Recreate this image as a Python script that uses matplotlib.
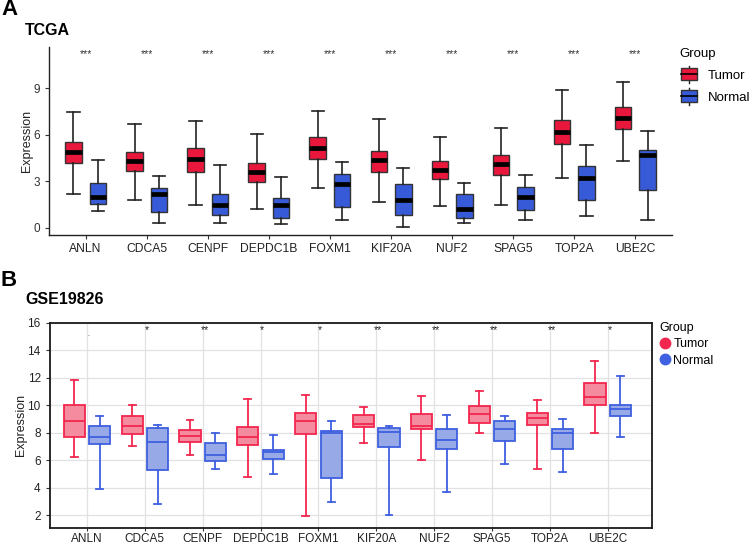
import matplotlib
matplotlib.use('Agg')
import matplotlib.pyplot as plt
import numpy as np
from matplotlib.legend_handler import HandlerBase
from matplotlib.patches import Rectangle, Patch
from matplotlib.lines import Line2D

genes = ['ANLN', 'CDCA5', 'CENPF', 'DEPDC1B', 'FOXM1',
         'KIF20A', 'NUF2', 'SPAG5', 'TOP2A', 'UBE2C']

# five-number summaries: [lower whisker, Q1, median, Q3, upper whisker]
tcga_tumor = [[2.17, 4.15, 4.90, 5.55, 7.48],
              [1.78, 3.63, 4.32, 4.90, 6.71],
              [1.48, 3.59, 4.43, 5.12, 6.90],
              [1.23, 2.92, 3.59, 4.17, 6.04],
              [2.54, 4.43, 5.16, 5.85, 7.53],
              [1.63, 3.59, 4.39, 4.97, 6.99],
              [1.40, 3.12, 3.74, 4.28, 5.85],
              [1.48, 3.38, 4.13, 4.67, 6.43],
              [3.20, 5.38, 6.17, 6.92, 8.90],
              [4.28, 6.34, 7.10, 7.81, 9.40]]
tcga_normal = [[1.10, 1.55, 1.98, 2.88, 4.39],
               [0.32, 1.01, 2.15, 2.56, 3.35],
               [0.30, 0.80, 1.48, 2.15, 4.06],
               [0.24, 0.62, 1.48, 1.94, 3.29],
               [0.52, 1.31, 2.84, 3.48, 4.22],
               [0.06, 0.80, 1.78, 2.80, 3.85],
               [0.28, 0.65, 1.20, 2.15, 2.90],
               [0.47, 1.14, 2.00, 2.60, 3.40],
               [0.73, 1.76, 3.20, 3.96, 5.35],
               [0.52, 2.41, 4.69, 5.01, 6.22]]
tcga_sig = ['***'] * 10

geo_tumor = [[6.27, 7.69, 8.82, 10.00, 11.81],
             [7.06, 7.90, 8.46, 9.20, 10.00],
             [6.36, 7.35, 7.76, 8.22, 8.94],
             [4.82, 7.08, 7.69, 8.39, 10.43],
             [1.93, 7.93, 8.82, 9.42, 10.72],
             [7.25, 8.39, 8.65, 9.30, 9.86],
             [6.00, 8.31, 8.51, 9.37, 10.70],
             [7.98, 8.70, 9.35, 9.95, 11.06],
             [5.37, 8.55, 9.11, 9.47, 10.41],
             [8.00, 10.00, 10.63, 11.61, 13.23]]
geo_normal = [[3.95, 7.18, 7.69, 8.46, 9.20],
              [2.82, 5.28, 7.30, 8.34, 8.60],
              [5.37, 5.98, 6.39, 7.25, 7.95],
              [4.99, 6.12, 6.63, 6.77, 7.81],
              [2.94, 4.72, 7.95, 8.14, 8.84],
              [2.05, 6.99, 8.05, 8.34, 8.51],
              [3.73, 6.82, 7.47, 8.31, 9.28],
              [5.73, 7.40, 8.27, 8.82, 9.23],
              [5.13, 6.80, 7.95, 8.27, 9.01],
              [7.69, 9.20, 9.71, 10.00, 12.10]]
geo_sig = ['.', '*', '**', '*', '*', '**', '**', '**', '**', '*']

groups = ['Tumor', 'Normal']

plt.rcParams['font.family'] = ['Liberation Sans', 'DejaVu Sans']

W, H = 753, 546


def stats(rows):
    return [dict(whislo=r[0], q1=r[1], med=r[2], q3=r[3], whishi=r[4], fliers=[])
            for r in rows]


class BoxKey(HandlerBase):
    # legend key like ggplot's boxplot glyph
    def create_artists(self, legend, orig, xd, yd, width, height, fontsize, trans):
        x0, y0 = -xd, -yd
        cx, cy = x0 + width / 2, y0 + height / 2
        line = Line2D([cx, cx], [y0 - 0.2 * height, y0 + 1.2 * height],
                      color='#222222', lw=1.0, transform=trans)
        box = Rectangle((x0 + 0.05 * width, y0), 0.9 * width, height,
                        facecolor=orig.get_facecolor(), edgecolor='#333333', lw=1.0,
                        transform=trans)
        med = Line2D([x0 + 0.05 * width, x0 + 0.95 * width], [cy, cy],
                     color='black', lw=1.2, transform=trans)
        return [line, box, med]


fig = plt.figure(figsize=(W / 100, H / 100), dpi=100)
x = np.arange(1, len(genes) + 1)

# ---------------- panel A
red_a, blue_a = '#EA173D', '#375AD8'
ax1 = fig.add_axes([49 / W, 1 - 235 / H, 623 / W, 188.3 / H])
for data, off, col in [(tcga_tumor, -0.2, red_a), (tcga_normal, 0.2, blue_a)]:
    ax1.bxp(stats(data), positions=x + off, widths=0.27, capwidths=0.2,
            patch_artist=True, showfliers=False,
            boxprops=dict(facecolor=col, edgecolor='#333333', linewidth=1.0),
            medianprops=dict(color='black', linewidth=3.4, solid_capstyle='butt'),
            whiskerprops=dict(color='#222222', linewidth=1.2),
            capprops=dict(color='#222222', linewidth=1.2))
for xi, s in zip(x, tcga_sig):
    ax1.text(xi, 11.2, s, ha='center', va='center', fontsize=7.5, color='#333333')
ax1.set_xlim(0.4, 10.6)
ax1.set_ylim(-0.47, 11.68)
ax1.set_yticks([0, 3, 6, 9])
ax1.set_xticks(x, genes)
ax1.spines[['top', 'right']].set_visible(False)
for s in ['left', 'bottom']:
    ax1.spines[s].set_linewidth(1.0)
    ax1.spines[s].set_color('#222222')
ax1.tick_params(axis='x', labelsize=8.7, length=3, pad=3, colors='#333333', labelcolor='#222222')
ax1.tick_params(axis='y', labelsize=8.5, length=3, colors='#333333', labelcolor='#333333')
ax1.set_ylabel('Expression', fontsize=9, color='#222222')
ax1.yaxis.set_label_coords(-0.025, 0.5)

fig.legend(handles=[Patch(facecolor=red_a), Patch(facecolor=blue_a)], labels=groups,
           title='Group', handler_map={Patch: BoxKey()}, loc='upper left',
           bbox_to_anchor=(668 / W, 1 - 36 / H), frameon=False, fontsize=9.5,
           title_fontsize=9.5, handlelength=1.4, handleheight=1.0,
           labelspacing=0.65, handletextpad=0.7, alignment='left')

fig.text(1 / W, 1 - 9.5 / H, 'A', fontsize=16, weight='bold', va='center')
fig.text(25 / W, 1 - 30.5 / H, 'TCGA', fontsize=11.5, weight='bold', va='center')

# ---------------- panel B
red_edge, red_fill = '#F2274F', '#F58B9E'
blue_edge, blue_fill = '#3F60E0', '#98A9E8'
ax2 = fig.add_axes([49.7 / W, 1 - 528 / H, 602.3 / W, 205.3 / H])
ax2.grid(color='#E2E2E2', linewidth=0.9)
ax2.set_axisbelow(True)
for data, off, fc, ec in [(geo_tumor, -0.22, red_fill, red_edge),
                          (geo_normal, 0.22, blue_fill, blue_edge)]:
    ax2.bxp(stats(data), positions=x + off, widths=0.365, capwidths=0.12,
            patch_artist=True, showfliers=False,
            boxprops=dict(facecolor=fc, edgecolor=ec, linewidth=1.3),
            medianprops=dict(color=ec, linewidth=1.3),
            whiskerprops=dict(color=ec, linewidth=1.3),
            capprops=dict(color=ec, linewidth=1.3))
for xi, s in zip(x, geo_sig):
    if s == '.':
        ax2.text(xi + 0.03, 15.05, s, ha='center', va='baseline', fontsize=5, color='#333333')
    else:
        ax2.text(xi + 0.03, 15.47, s, ha='center', va='center', fontsize=7.5, color='#222222')
ax2.set_xlim(0.355, 10.766)
ax2.set_ylim(1.08, 16)
ax2.set_yticks(np.arange(2, 17, 2))
ax2.set_xticks(x, genes)
for s in ax2.spines.values():
    s.set_linewidth(1.3)
    s.set_color('#1a1a1a')
ax2.tick_params(axis='x', labelsize=8.5, length=2.5, pad=0.8, colors='#333333', labelcolor='#222222')
ax2.tick_params(axis='y', labelsize=8.5, length=3, colors='#333333', labelcolor='#222222')
ax2.set_ylabel('Expression', fontsize=9, color='#222222')
ax2.yaxis.set_label_coords(-0.037, 0.5)

fig.legend(handles=[Line2D([], [], ls='', marker='o', ms=7.5, color=red_edge),
                    Line2D([], [], ls='', marker='o', ms=7.5, color=blue_edge)],
           labels=groups, title='Group', loc='upper left',
           bbox_to_anchor=(651 / W, 1 - 313 / H), frameon=False, fontsize=9,
           title_fontsize=9, handlelength=0.8, labelspacing=0.35, handletextpad=0.3,
           borderpad=0.2, alignment='left')

fig.text(1 / W, 1 - 280 / H, 'B', fontsize=16, weight='bold', va='center')
fig.text(25 / W, 1 - 300 / H, 'GSE19826', fontsize=11.5, weight='bold', va='center')

fig.savefig('out.png', dpi=100)
